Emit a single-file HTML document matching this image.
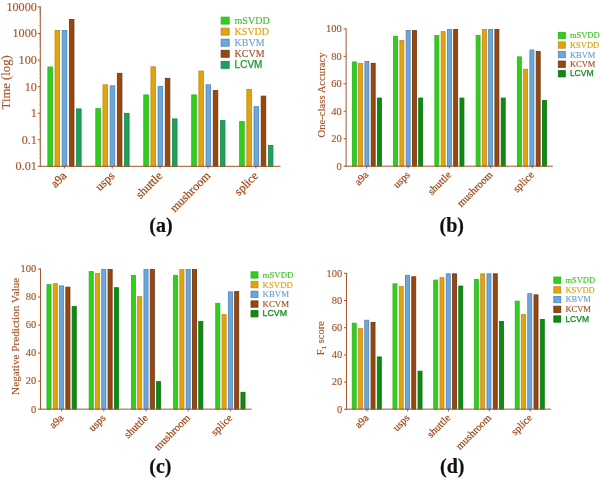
<!DOCTYPE html>
<html><head><meta charset="utf-8"><title>Figure</title>
<style>
html,body{margin:0;padding:0;background:#fff;}
body{width:600px;height:478px;overflow:hidden;font-family:"Liberation Serif",serif;}
svg{display:block;will-change:transform;}
</style></head><body>
<svg width="600" height="478" viewBox="0 0 600 478">
<rect width="600" height="478" fill="#ffffff"/>
<rect x="47.86" y="67.00" width="4.60" height="99.30" fill="#33ce1c" stroke="#2bb226" stroke-width="0.8"/>
<rect x="55.03" y="30.40" width="4.60" height="135.90" fill="#e0a40c" stroke="#c4881c" stroke-width="0.8"/>
<rect x="62.20" y="30.40" width="4.60" height="135.90" fill="#6fa6da" stroke="#4c82ba" stroke-width="0.8"/>
<rect x="69.37" y="19.40" width="4.60" height="146.90" fill="#96480f" stroke="#6c3410" stroke-width="0.8"/>
<rect x="76.54" y="108.90" width="4.60" height="57.40" fill="#1fa05c" stroke="#15884a" stroke-width="0.8"/>
<rect x="95.81" y="108.60" width="4.60" height="57.70" fill="#33ce1c" stroke="#2bb226" stroke-width="0.8"/>
<rect x="102.98" y="84.80" width="4.60" height="81.50" fill="#e0a40c" stroke="#c4881c" stroke-width="0.8"/>
<rect x="110.15" y="85.80" width="4.60" height="80.50" fill="#6fa6da" stroke="#4c82ba" stroke-width="0.8"/>
<rect x="117.32" y="73.30" width="4.60" height="93.00" fill="#96480f" stroke="#6c3410" stroke-width="0.8"/>
<rect x="124.49" y="113.30" width="4.60" height="53.00" fill="#1fa05c" stroke="#15884a" stroke-width="0.8"/>
<rect x="143.76" y="94.90" width="4.60" height="71.40" fill="#33ce1c" stroke="#2bb226" stroke-width="0.8"/>
<rect x="150.93" y="66.80" width="4.60" height="99.50" fill="#e0a40c" stroke="#c4881c" stroke-width="0.8"/>
<rect x="158.10" y="86.30" width="4.60" height="80.00" fill="#6fa6da" stroke="#4c82ba" stroke-width="0.8"/>
<rect x="165.27" y="78.30" width="4.60" height="88.00" fill="#96480f" stroke="#6c3410" stroke-width="0.8"/>
<rect x="172.44" y="118.90" width="4.60" height="47.40" fill="#1fa05c" stroke="#15884a" stroke-width="0.8"/>
<rect x="191.71" y="94.90" width="4.60" height="71.40" fill="#33ce1c" stroke="#2bb226" stroke-width="0.8"/>
<rect x="198.88" y="71.00" width="4.60" height="95.30" fill="#e0a40c" stroke="#c4881c" stroke-width="0.8"/>
<rect x="206.05" y="84.80" width="4.60" height="81.50" fill="#6fa6da" stroke="#4c82ba" stroke-width="0.8"/>
<rect x="213.22" y="90.60" width="4.60" height="75.70" fill="#96480f" stroke="#6c3410" stroke-width="0.8"/>
<rect x="220.39" y="120.60" width="4.60" height="45.70" fill="#1fa05c" stroke="#15884a" stroke-width="0.8"/>
<rect x="239.66" y="121.60" width="4.60" height="44.70" fill="#33ce1c" stroke="#2bb226" stroke-width="0.8"/>
<rect x="246.83" y="89.30" width="4.60" height="77.00" fill="#e0a40c" stroke="#c4881c" stroke-width="0.8"/>
<rect x="254.00" y="106.70" width="4.60" height="59.60" fill="#6fa6da" stroke="#4c82ba" stroke-width="0.8"/>
<rect x="261.17" y="96.10" width="4.60" height="70.20" fill="#96480f" stroke="#6c3410" stroke-width="0.8"/>
<rect x="268.34" y="145.40" width="4.60" height="20.90" fill="#1fa05c" stroke="#15884a" stroke-width="0.8"/>
<line x1="40.30" y1="6.40" x2="40.30" y2="166.80" stroke="#a5562b" stroke-width="1"/>
<line x1="39.80" y1="166.30" x2="280.50" y2="166.30" stroke="#a5562b" stroke-width="1"/>
<line x1="37.80" y1="6.92" x2="40.30" y2="6.92" stroke="#a5562b" stroke-width="1"/>
<text x="36.90" y="10.82" font-family="Liberation Serif" font-size="12.2" font-weight="normal" fill="#a5562b" stroke="#a5562b" stroke-width="0.15" text-anchor="end" >10000</text>
<line x1="37.80" y1="33.49" x2="40.30" y2="33.49" stroke="#a5562b" stroke-width="1"/>
<text x="36.90" y="37.39" font-family="Liberation Serif" font-size="12.2" font-weight="normal" fill="#a5562b" stroke="#a5562b" stroke-width="0.15" text-anchor="end" >1000</text>
<line x1="37.80" y1="60.06" x2="40.30" y2="60.06" stroke="#a5562b" stroke-width="1"/>
<text x="36.90" y="63.96" font-family="Liberation Serif" font-size="12.2" font-weight="normal" fill="#a5562b" stroke="#a5562b" stroke-width="0.15" text-anchor="end" >100</text>
<line x1="37.80" y1="86.63" x2="40.30" y2="86.63" stroke="#a5562b" stroke-width="1"/>
<text x="36.90" y="90.53" font-family="Liberation Serif" font-size="12.2" font-weight="normal" fill="#a5562b" stroke="#a5562b" stroke-width="0.15" text-anchor="end" >10</text>
<line x1="37.80" y1="113.20" x2="40.30" y2="113.20" stroke="#a5562b" stroke-width="1"/>
<text x="36.90" y="117.10" font-family="Liberation Serif" font-size="12.2" font-weight="normal" fill="#a5562b" stroke="#a5562b" stroke-width="0.15" text-anchor="end" >1</text>
<line x1="37.80" y1="139.77" x2="40.30" y2="139.77" stroke="#a5562b" stroke-width="1"/>
<text x="36.90" y="143.67" font-family="Liberation Serif" font-size="12.2" font-weight="normal" fill="#a5562b" stroke="#a5562b" stroke-width="0.15" text-anchor="end" >0.1</text>
<line x1="37.80" y1="166.34" x2="40.30" y2="166.34" stroke="#a5562b" stroke-width="1"/>
<text x="36.90" y="170.24" font-family="Liberation Serif" font-size="12.2" font-weight="normal" fill="#a5562b" stroke="#a5562b" stroke-width="0.15" text-anchor="end" >0.01</text>
<line x1="39.20" y1="158.34" x2="40.30" y2="158.34" stroke="#a5562b" stroke-width="0.4"/>
<line x1="39.20" y1="153.66" x2="40.30" y2="153.66" stroke="#a5562b" stroke-width="0.4"/>
<line x1="39.20" y1="150.34" x2="40.30" y2="150.34" stroke="#a5562b" stroke-width="0.4"/>
<line x1="39.20" y1="147.77" x2="40.30" y2="147.77" stroke="#a5562b" stroke-width="0.4"/>
<line x1="39.20" y1="145.66" x2="40.30" y2="145.66" stroke="#a5562b" stroke-width="0.4"/>
<line x1="39.20" y1="143.89" x2="40.30" y2="143.89" stroke="#a5562b" stroke-width="0.4"/>
<line x1="39.20" y1="142.34" x2="40.30" y2="142.34" stroke="#a5562b" stroke-width="0.4"/>
<line x1="39.20" y1="140.99" x2="40.30" y2="140.99" stroke="#a5562b" stroke-width="0.4"/>
<line x1="39.20" y1="131.77" x2="40.30" y2="131.77" stroke="#a5562b" stroke-width="0.4"/>
<line x1="39.20" y1="127.09" x2="40.30" y2="127.09" stroke="#a5562b" stroke-width="0.4"/>
<line x1="39.20" y1="123.77" x2="40.30" y2="123.77" stroke="#a5562b" stroke-width="0.4"/>
<line x1="39.20" y1="121.20" x2="40.30" y2="121.20" stroke="#a5562b" stroke-width="0.4"/>
<line x1="39.20" y1="119.09" x2="40.30" y2="119.09" stroke="#a5562b" stroke-width="0.4"/>
<line x1="39.20" y1="117.32" x2="40.30" y2="117.32" stroke="#a5562b" stroke-width="0.4"/>
<line x1="39.20" y1="115.77" x2="40.30" y2="115.77" stroke="#a5562b" stroke-width="0.4"/>
<line x1="39.20" y1="114.42" x2="40.30" y2="114.42" stroke="#a5562b" stroke-width="0.4"/>
<line x1="39.20" y1="105.20" x2="40.30" y2="105.20" stroke="#a5562b" stroke-width="0.4"/>
<line x1="39.20" y1="100.52" x2="40.30" y2="100.52" stroke="#a5562b" stroke-width="0.4"/>
<line x1="39.20" y1="97.20" x2="40.30" y2="97.20" stroke="#a5562b" stroke-width="0.4"/>
<line x1="39.20" y1="94.63" x2="40.30" y2="94.63" stroke="#a5562b" stroke-width="0.4"/>
<line x1="39.20" y1="92.52" x2="40.30" y2="92.52" stroke="#a5562b" stroke-width="0.4"/>
<line x1="39.20" y1="90.75" x2="40.30" y2="90.75" stroke="#a5562b" stroke-width="0.4"/>
<line x1="39.20" y1="89.20" x2="40.30" y2="89.20" stroke="#a5562b" stroke-width="0.4"/>
<line x1="39.20" y1="87.85" x2="40.30" y2="87.85" stroke="#a5562b" stroke-width="0.4"/>
<line x1="39.20" y1="78.63" x2="40.30" y2="78.63" stroke="#a5562b" stroke-width="0.4"/>
<line x1="39.20" y1="73.95" x2="40.30" y2="73.95" stroke="#a5562b" stroke-width="0.4"/>
<line x1="39.20" y1="70.63" x2="40.30" y2="70.63" stroke="#a5562b" stroke-width="0.4"/>
<line x1="39.20" y1="68.06" x2="40.30" y2="68.06" stroke="#a5562b" stroke-width="0.4"/>
<line x1="39.20" y1="65.95" x2="40.30" y2="65.95" stroke="#a5562b" stroke-width="0.4"/>
<line x1="39.20" y1="64.18" x2="40.30" y2="64.18" stroke="#a5562b" stroke-width="0.4"/>
<line x1="39.20" y1="62.63" x2="40.30" y2="62.63" stroke="#a5562b" stroke-width="0.4"/>
<line x1="39.20" y1="61.28" x2="40.30" y2="61.28" stroke="#a5562b" stroke-width="0.4"/>
<line x1="39.20" y1="52.06" x2="40.30" y2="52.06" stroke="#a5562b" stroke-width="0.4"/>
<line x1="39.20" y1="47.38" x2="40.30" y2="47.38" stroke="#a5562b" stroke-width="0.4"/>
<line x1="39.20" y1="44.06" x2="40.30" y2="44.06" stroke="#a5562b" stroke-width="0.4"/>
<line x1="39.20" y1="41.49" x2="40.30" y2="41.49" stroke="#a5562b" stroke-width="0.4"/>
<line x1="39.20" y1="39.38" x2="40.30" y2="39.38" stroke="#a5562b" stroke-width="0.4"/>
<line x1="39.20" y1="37.61" x2="40.30" y2="37.61" stroke="#a5562b" stroke-width="0.4"/>
<line x1="39.20" y1="36.06" x2="40.30" y2="36.06" stroke="#a5562b" stroke-width="0.4"/>
<line x1="39.20" y1="34.71" x2="40.30" y2="34.71" stroke="#a5562b" stroke-width="0.4"/>
<line x1="39.20" y1="25.49" x2="40.30" y2="25.49" stroke="#a5562b" stroke-width="0.4"/>
<line x1="39.20" y1="20.81" x2="40.30" y2="20.81" stroke="#a5562b" stroke-width="0.4"/>
<line x1="39.20" y1="17.49" x2="40.30" y2="17.49" stroke="#a5562b" stroke-width="0.4"/>
<line x1="39.20" y1="14.92" x2="40.30" y2="14.92" stroke="#a5562b" stroke-width="0.4"/>
<line x1="39.20" y1="12.81" x2="40.30" y2="12.81" stroke="#a5562b" stroke-width="0.4"/>
<line x1="39.20" y1="11.04" x2="40.30" y2="11.04" stroke="#a5562b" stroke-width="0.4"/>
<line x1="39.20" y1="9.49" x2="40.30" y2="9.49" stroke="#a5562b" stroke-width="0.4"/>
<line x1="39.20" y1="8.14" x2="40.30" y2="8.14" stroke="#a5562b" stroke-width="0.4"/>
<line x1="64.30" y1="166.30" x2="64.30" y2="168.50" stroke="#a5562b" stroke-width="1"/>
<text x="67.30" y="176.50" font-family="Liberation Serif" font-size="12" font-weight="normal" fill="#9c4314" stroke="#9c4314" stroke-width="0.2" text-anchor="end" transform="rotate(-45 67.30 176.50)">a9a</text>
<line x1="112.20" y1="166.30" x2="112.20" y2="168.50" stroke="#a5562b" stroke-width="1"/>
<text x="115.20" y="176.50" font-family="Liberation Serif" font-size="12" font-weight="normal" fill="#9c4314" stroke="#9c4314" stroke-width="0.2" text-anchor="end" transform="rotate(-45 115.20 176.50)">usps</text>
<line x1="160.10" y1="166.30" x2="160.10" y2="168.50" stroke="#a5562b" stroke-width="1"/>
<text x="163.10" y="176.50" font-family="Liberation Serif" font-size="12" font-weight="normal" fill="#9c4314" stroke="#9c4314" stroke-width="0.2" text-anchor="end" transform="rotate(-45 163.10 176.50)">shuttle</text>
<line x1="208.00" y1="166.30" x2="208.00" y2="168.50" stroke="#a5562b" stroke-width="1"/>
<text x="211.00" y="176.50" font-family="Liberation Serif" font-size="12" font-weight="normal" fill="#9c4314" stroke="#9c4314" stroke-width="0.2" text-anchor="end" transform="rotate(-45 211.00 176.50)">mushroom</text>
<line x1="255.90" y1="166.30" x2="255.90" y2="168.50" stroke="#a5562b" stroke-width="1"/>
<text x="258.90" y="176.50" font-family="Liberation Serif" font-size="12" font-weight="normal" fill="#9c4314" stroke="#9c4314" stroke-width="0.2" text-anchor="end" transform="rotate(-45 258.90 176.50)">splice</text>
<text x="9.80" y="82.30" font-family="Liberation Serif" font-size="12.7" font-weight="normal" fill="#a5562b" stroke="#a5562b" stroke-width="0.15" text-anchor="middle" transform="rotate(-90 9.80 82.30)">Time (log)</text>
<rect x="221.10" y="17.10" width="8.10" height="7.00" fill="#33ce1c" stroke="#2bb226" stroke-width="0.8"/>
<text x="234.60" y="24.00" font-family="Liberation Serif" font-size="10" font-weight="normal" fill="#3fc628" stroke="#3fc628" stroke-width="0.15" text-anchor="start" >mSVDD</text>
<rect x="221.10" y="28.15" width="8.10" height="7.00" fill="#e0a40c" stroke="#c4881c" stroke-width="0.8"/>
<text x="234.60" y="35.05" font-family="Liberation Serif" font-size="10" font-weight="normal" fill="#d9a21b" stroke="#d9a21b" stroke-width="0.15" text-anchor="start" >KSVDD</text>
<rect x="221.10" y="39.20" width="8.10" height="7.00" fill="#6fa6da" stroke="#4c82ba" stroke-width="0.8"/>
<text x="234.60" y="46.10" font-family="Liberation Serif" font-size="10" font-weight="normal" fill="#6fa3d8" stroke="#6fa3d8" stroke-width="0.15" text-anchor="start" >KBVM</text>
<rect x="221.10" y="50.25" width="8.10" height="7.00" fill="#96480f" stroke="#6c3410" stroke-width="0.8"/>
<text x="234.60" y="57.15" font-family="Liberation Serif" font-size="10" font-weight="normal" fill="#a0542a" stroke="#a0542a" stroke-width="0.15" text-anchor="start" >KCVM</text>
<rect x="221.10" y="61.30" width="8.10" height="7.00" fill="#1fa05c" stroke="#15884a" stroke-width="0.8"/>
<text x="234.60" y="67.80" font-family="Liberation Sans" font-size="10" font-weight="normal" fill="#169a2c" stroke="#169a2c" stroke-width="0.25" text-anchor="start" >LCVM</text>
<text x="161.00" y="231.80" font-family="Liberation Serif" font-size="20" font-weight="bold" fill="#111" stroke="#111" stroke-width="0.2" text-anchor="middle" >(a)</text>
<rect x="352.36" y="61.94" width="4.00" height="104.26" fill="#33ce1c" stroke="#2bb226" stroke-width="0.8"/>
<rect x="358.63" y="63.45" width="4.00" height="102.75" fill="#e0a40c" stroke="#c4881c" stroke-width="0.8"/>
<rect x="364.90" y="61.39" width="4.00" height="104.81" fill="#6fa6da" stroke="#4c82ba" stroke-width="0.8"/>
<rect x="371.17" y="63.31" width="4.00" height="102.89" fill="#96480f" stroke="#6c3410" stroke-width="0.8"/>
<rect x="377.44" y="98.05" width="4.00" height="68.15" fill="#0e8a12" stroke="#0a7410" stroke-width="0.8"/>
<rect x="393.61" y="36.26" width="4.00" height="129.94" fill="#33ce1c" stroke="#2bb226" stroke-width="0.8"/>
<rect x="399.88" y="40.38" width="4.00" height="125.82" fill="#e0a40c" stroke="#c4881c" stroke-width="0.8"/>
<rect x="406.15" y="30.36" width="4.00" height="135.84" fill="#6fa6da" stroke="#4c82ba" stroke-width="0.8"/>
<rect x="412.42" y="30.64" width="4.00" height="135.56" fill="#96480f" stroke="#6c3410" stroke-width="0.8"/>
<rect x="418.69" y="98.05" width="4.00" height="68.15" fill="#0e8a12" stroke="#0a7410" stroke-width="0.8"/>
<rect x="434.86" y="35.44" width="4.00" height="130.76" fill="#33ce1c" stroke="#2bb226" stroke-width="0.8"/>
<rect x="441.13" y="31.60" width="4.00" height="134.60" fill="#e0a40c" stroke="#c4881c" stroke-width="0.8"/>
<rect x="447.40" y="29.40" width="4.00" height="136.80" fill="#6fa6da" stroke="#4c82ba" stroke-width="0.8"/>
<rect x="453.67" y="29.40" width="4.00" height="136.80" fill="#96480f" stroke="#6c3410" stroke-width="0.8"/>
<rect x="459.94" y="98.05" width="4.00" height="68.15" fill="#0e8a12" stroke="#0a7410" stroke-width="0.8"/>
<rect x="476.11" y="35.44" width="4.00" height="130.76" fill="#33ce1c" stroke="#2bb226" stroke-width="0.8"/>
<rect x="482.38" y="29.40" width="4.00" height="136.80" fill="#e0a40c" stroke="#c4881c" stroke-width="0.8"/>
<rect x="488.65" y="29.40" width="4.00" height="136.80" fill="#6fa6da" stroke="#4c82ba" stroke-width="0.8"/>
<rect x="494.92" y="29.40" width="4.00" height="136.80" fill="#96480f" stroke="#6c3410" stroke-width="0.8"/>
<rect x="501.19" y="98.05" width="4.00" height="68.15" fill="#0e8a12" stroke="#0a7410" stroke-width="0.8"/>
<rect x="517.36" y="56.86" width="4.00" height="109.34" fill="#33ce1c" stroke="#2bb226" stroke-width="0.8"/>
<rect x="523.63" y="69.22" width="4.00" height="96.98" fill="#e0a40c" stroke="#c4881c" stroke-width="0.8"/>
<rect x="529.90" y="49.99" width="4.00" height="116.20" fill="#6fa6da" stroke="#4c82ba" stroke-width="0.8"/>
<rect x="536.17" y="51.37" width="4.00" height="114.83" fill="#96480f" stroke="#6c3410" stroke-width="0.8"/>
<rect x="542.44" y="100.38" width="4.00" height="65.82" fill="#0e8a12" stroke="#0a7410" stroke-width="0.8"/>
<line x1="346.10" y1="28.40" x2="346.10" y2="166.70" stroke="#a5562b" stroke-width="1"/>
<line x1="345.60" y1="166.20" x2="552.80" y2="166.20" stroke="#a5562b" stroke-width="1"/>
<line x1="343.60" y1="166.20" x2="346.10" y2="166.20" stroke="#a5562b" stroke-width="1"/>
<text x="341.80" y="169.56" font-family="Liberation Serif" font-size="10.5" font-weight="normal" fill="#a5562b" stroke="#a5562b" stroke-width="0.15" text-anchor="end" >0</text>
<line x1="343.60" y1="138.74" x2="346.10" y2="138.74" stroke="#a5562b" stroke-width="1"/>
<text x="341.80" y="142.10" font-family="Liberation Serif" font-size="10.5" font-weight="normal" fill="#a5562b" stroke="#a5562b" stroke-width="0.15" text-anchor="end" >20</text>
<line x1="343.60" y1="111.28" x2="346.10" y2="111.28" stroke="#a5562b" stroke-width="1"/>
<text x="341.80" y="114.64" font-family="Liberation Serif" font-size="10.5" font-weight="normal" fill="#a5562b" stroke="#a5562b" stroke-width="0.15" text-anchor="end" >40</text>
<line x1="343.60" y1="83.82" x2="346.10" y2="83.82" stroke="#a5562b" stroke-width="1"/>
<text x="341.80" y="87.18" font-family="Liberation Serif" font-size="10.5" font-weight="normal" fill="#a5562b" stroke="#a5562b" stroke-width="0.15" text-anchor="end" >60</text>
<line x1="343.60" y1="56.36" x2="346.10" y2="56.36" stroke="#a5562b" stroke-width="1"/>
<text x="341.80" y="59.72" font-family="Liberation Serif" font-size="10.5" font-weight="normal" fill="#a5562b" stroke="#a5562b" stroke-width="0.15" text-anchor="end" >80</text>
<line x1="343.60" y1="28.90" x2="346.10" y2="28.90" stroke="#a5562b" stroke-width="1"/>
<text x="341.80" y="32.26" font-family="Liberation Serif" font-size="10.5" font-weight="normal" fill="#a5562b" stroke="#a5562b" stroke-width="0.15" text-anchor="end" >100</text>
<line x1="366.70" y1="166.20" x2="366.70" y2="168.40" stroke="#a5562b" stroke-width="1"/>
<text x="369.20" y="175.50" font-family="Liberation Serif" font-size="10.6" font-weight="normal" fill="#9c4314" stroke="#9c4314" stroke-width="0.2" text-anchor="end" transform="rotate(-45 369.20 175.50)">a9a</text>
<line x1="408.06" y1="166.20" x2="408.06" y2="168.40" stroke="#a5562b" stroke-width="1"/>
<text x="410.56" y="175.50" font-family="Liberation Serif" font-size="10.6" font-weight="normal" fill="#9c4314" stroke="#9c4314" stroke-width="0.2" text-anchor="end" transform="rotate(-45 410.56 175.50)">usps</text>
<line x1="449.42" y1="166.20" x2="449.42" y2="168.40" stroke="#a5562b" stroke-width="1"/>
<text x="451.92" y="175.50" font-family="Liberation Serif" font-size="10.6" font-weight="normal" fill="#9c4314" stroke="#9c4314" stroke-width="0.2" text-anchor="end" transform="rotate(-45 451.92 175.50)">shuttle</text>
<line x1="490.78" y1="166.20" x2="490.78" y2="168.40" stroke="#a5562b" stroke-width="1"/>
<text x="493.28" y="175.50" font-family="Liberation Serif" font-size="10.6" font-weight="normal" fill="#9c4314" stroke="#9c4314" stroke-width="0.2" text-anchor="end" transform="rotate(-45 493.28 175.50)">mushroom</text>
<line x1="532.14" y1="166.20" x2="532.14" y2="168.40" stroke="#a5562b" stroke-width="1"/>
<text x="534.64" y="175.50" font-family="Liberation Serif" font-size="10.6" font-weight="normal" fill="#9c4314" stroke="#9c4314" stroke-width="0.2" text-anchor="end" transform="rotate(-45 534.64 175.50)">splice</text>
<text x="325.20" y="95.00" font-family="Liberation Serif" font-size="10.7" font-weight="normal" fill="#a5562b" stroke="#a5562b" stroke-width="0.15" text-anchor="middle" transform="rotate(-90 325.20 95.00)">One-class Accuracy</text>
<rect x="558.30" y="32.30" width="7.00" height="6.30" fill="#33ce1c" stroke="#2bb226" stroke-width="0.8"/>
<text x="569.90" y="38.34" font-family="Liberation Serif" font-size="8.5" font-weight="normal" fill="#3fc628" stroke="#3fc628" stroke-width="0.15" text-anchor="start" >mSVDD</text>
<rect x="558.30" y="41.88" width="7.00" height="6.30" fill="#e0a40c" stroke="#c4881c" stroke-width="0.8"/>
<text x="569.90" y="47.92" font-family="Liberation Serif" font-size="8.5" font-weight="normal" fill="#d9a21b" stroke="#d9a21b" stroke-width="0.15" text-anchor="start" >KSVDD</text>
<rect x="558.30" y="51.46" width="7.00" height="6.30" fill="#6fa6da" stroke="#4c82ba" stroke-width="0.8"/>
<text x="569.90" y="57.50" font-family="Liberation Serif" font-size="8.5" font-weight="normal" fill="#6fa3d8" stroke="#6fa3d8" stroke-width="0.15" text-anchor="start" >KBVM</text>
<rect x="558.30" y="61.04" width="7.00" height="6.30" fill="#96480f" stroke="#6c3410" stroke-width="0.8"/>
<text x="569.90" y="67.08" font-family="Liberation Serif" font-size="8.5" font-weight="normal" fill="#a0542a" stroke="#a0542a" stroke-width="0.15" text-anchor="start" >KCVM</text>
<rect x="558.30" y="70.62" width="7.00" height="6.30" fill="#0e8a12" stroke="#0a7410" stroke-width="0.8"/>
<text x="569.90" y="76.32" font-family="Liberation Sans" font-size="8.5" font-weight="normal" fill="#128a1a" stroke="#128a1a" stroke-width="0.25" text-anchor="start" >LCVM</text>
<text x="451.80" y="231.70" font-family="Liberation Serif" font-size="20" font-weight="bold" fill="#111" stroke="#111" stroke-width="0.2" text-anchor="middle" >(b)</text>
<rect x="46.95" y="284.64" width="4.10" height="124.51" fill="#33ce1c" stroke="#2bb226" stroke-width="0.8"/>
<rect x="53.25" y="283.66" width="4.10" height="125.49" fill="#e0a40c" stroke="#c4881c" stroke-width="0.8"/>
<rect x="59.55" y="285.90" width="4.10" height="123.25" fill="#6fa6da" stroke="#4c82ba" stroke-width="0.8"/>
<rect x="65.85" y="287.16" width="4.10" height="121.99" fill="#96480f" stroke="#6c3410" stroke-width="0.8"/>
<rect x="72.15" y="306.50" width="4.10" height="102.65" fill="#0e8a12" stroke="#0a7410" stroke-width="0.8"/>
<rect x="89.15" y="271.60" width="4.10" height="137.55" fill="#33ce1c" stroke="#2bb226" stroke-width="0.8"/>
<rect x="95.45" y="273.56" width="4.10" height="135.59" fill="#e0a40c" stroke="#c4881c" stroke-width="0.8"/>
<rect x="101.75" y="269.50" width="4.10" height="139.65" fill="#6fa6da" stroke="#4c82ba" stroke-width="0.8"/>
<rect x="108.05" y="269.50" width="4.10" height="139.65" fill="#96480f" stroke="#6c3410" stroke-width="0.8"/>
<rect x="114.35" y="287.72" width="4.10" height="121.43" fill="#0e8a12" stroke="#0a7410" stroke-width="0.8"/>
<rect x="131.35" y="275.39" width="4.10" height="133.76" fill="#33ce1c" stroke="#2bb226" stroke-width="0.8"/>
<rect x="137.65" y="296.55" width="4.10" height="112.60" fill="#e0a40c" stroke="#c4881c" stroke-width="0.8"/>
<rect x="143.95" y="269.50" width="4.10" height="139.65" fill="#6fa6da" stroke="#4c82ba" stroke-width="0.8"/>
<rect x="150.25" y="269.50" width="4.10" height="139.65" fill="#96480f" stroke="#6c3410" stroke-width="0.8"/>
<rect x="156.55" y="381.62" width="4.10" height="27.53" fill="#0e8a12" stroke="#0a7410" stroke-width="0.8"/>
<rect x="173.55" y="275.39" width="4.10" height="133.76" fill="#33ce1c" stroke="#2bb226" stroke-width="0.8"/>
<rect x="179.85" y="269.50" width="4.10" height="139.65" fill="#e0a40c" stroke="#c4881c" stroke-width="0.8"/>
<rect x="186.15" y="269.50" width="4.10" height="139.65" fill="#6fa6da" stroke="#4c82ba" stroke-width="0.8"/>
<rect x="192.45" y="269.50" width="4.10" height="139.65" fill="#96480f" stroke="#6c3410" stroke-width="0.8"/>
<rect x="198.75" y="321.36" width="4.10" height="87.79" fill="#0e8a12" stroke="#0a7410" stroke-width="0.8"/>
<rect x="215.75" y="303.28" width="4.10" height="105.87" fill="#33ce1c" stroke="#2bb226" stroke-width="0.8"/>
<rect x="222.05" y="314.63" width="4.10" height="94.52" fill="#e0a40c" stroke="#c4881c" stroke-width="0.8"/>
<rect x="228.35" y="291.92" width="4.10" height="117.23" fill="#6fa6da" stroke="#4c82ba" stroke-width="0.8"/>
<rect x="234.65" y="291.50" width="4.10" height="117.65" fill="#96480f" stroke="#6c3410" stroke-width="0.8"/>
<rect x="240.95" y="392.27" width="4.10" height="16.88" fill="#0e8a12" stroke="#0a7410" stroke-width="0.8"/>
<line x1="40.50" y1="268.50" x2="40.50" y2="409.65" stroke="#a5562b" stroke-width="1"/>
<line x1="40.00" y1="409.15" x2="251.60" y2="409.15" stroke="#a5562b" stroke-width="1"/>
<line x1="38.00" y1="409.15" x2="40.50" y2="409.15" stroke="#a5562b" stroke-width="1"/>
<text x="36.20" y="412.51" font-family="Liberation Serif" font-size="10.5" font-weight="normal" fill="#a5562b" stroke="#a5562b" stroke-width="0.15" text-anchor="end" >0</text>
<line x1="38.00" y1="381.12" x2="40.50" y2="381.12" stroke="#a5562b" stroke-width="1"/>
<text x="36.20" y="384.48" font-family="Liberation Serif" font-size="10.5" font-weight="normal" fill="#a5562b" stroke="#a5562b" stroke-width="0.15" text-anchor="end" >20</text>
<line x1="38.00" y1="353.09" x2="40.50" y2="353.09" stroke="#a5562b" stroke-width="1"/>
<text x="36.20" y="356.45" font-family="Liberation Serif" font-size="10.5" font-weight="normal" fill="#a5562b" stroke="#a5562b" stroke-width="0.15" text-anchor="end" >40</text>
<line x1="38.00" y1="325.06" x2="40.50" y2="325.06" stroke="#a5562b" stroke-width="1"/>
<text x="36.20" y="328.42" font-family="Liberation Serif" font-size="10.5" font-weight="normal" fill="#a5562b" stroke="#a5562b" stroke-width="0.15" text-anchor="end" >60</text>
<line x1="38.00" y1="297.03" x2="40.50" y2="297.03" stroke="#a5562b" stroke-width="1"/>
<text x="36.20" y="300.39" font-family="Liberation Serif" font-size="10.5" font-weight="normal" fill="#a5562b" stroke="#a5562b" stroke-width="0.15" text-anchor="end" >80</text>
<line x1="38.00" y1="269.00" x2="40.50" y2="269.00" stroke="#a5562b" stroke-width="1"/>
<text x="36.20" y="272.36" font-family="Liberation Serif" font-size="10.5" font-weight="normal" fill="#a5562b" stroke="#a5562b" stroke-width="0.15" text-anchor="end" >100</text>
<line x1="61.60" y1="409.15" x2="61.60" y2="411.35" stroke="#a5562b" stroke-width="1"/>
<text x="64.10" y="418.55" font-family="Liberation Serif" font-size="10.7" font-weight="normal" fill="#9c4314" stroke="#9c4314" stroke-width="0.2" text-anchor="end" transform="rotate(-45 64.10 418.55)">a9a</text>
<line x1="103.80" y1="409.15" x2="103.80" y2="411.35" stroke="#a5562b" stroke-width="1"/>
<text x="106.30" y="418.55" font-family="Liberation Serif" font-size="10.7" font-weight="normal" fill="#9c4314" stroke="#9c4314" stroke-width="0.2" text-anchor="end" transform="rotate(-45 106.30 418.55)">usps</text>
<line x1="146.00" y1="409.15" x2="146.00" y2="411.35" stroke="#a5562b" stroke-width="1"/>
<text x="148.50" y="418.55" font-family="Liberation Serif" font-size="10.7" font-weight="normal" fill="#9c4314" stroke="#9c4314" stroke-width="0.2" text-anchor="end" transform="rotate(-45 148.50 418.55)">shuttle</text>
<line x1="188.20" y1="409.15" x2="188.20" y2="411.35" stroke="#a5562b" stroke-width="1"/>
<text x="190.70" y="418.55" font-family="Liberation Serif" font-size="10.7" font-weight="normal" fill="#9c4314" stroke="#9c4314" stroke-width="0.2" text-anchor="end" transform="rotate(-45 190.70 418.55)">mushroom</text>
<line x1="230.40" y1="409.15" x2="230.40" y2="411.35" stroke="#a5562b" stroke-width="1"/>
<text x="232.90" y="418.55" font-family="Liberation Serif" font-size="10.7" font-weight="normal" fill="#9c4314" stroke="#9c4314" stroke-width="0.2" text-anchor="end" transform="rotate(-45 232.90 418.55)">splice</text>
<text x="19.40" y="336.30" font-family="Liberation Serif" font-size="11.2" font-weight="normal" fill="#a5562b" stroke="#a5562b" stroke-width="0.15" text-anchor="middle" transform="rotate(-90 19.40 336.30)">Negative Prediction Value</text>
<rect x="251.00" y="271.80" width="7.00" height="6.30" fill="#33ce1c" stroke="#2bb226" stroke-width="0.8"/>
<text x="262.60" y="277.94" font-family="Liberation Serif" font-size="8.8" font-weight="normal" fill="#3fc628" stroke="#3fc628" stroke-width="0.15" text-anchor="start" >mSVDD</text>
<rect x="251.00" y="281.50" width="7.00" height="6.30" fill="#e0a40c" stroke="#c4881c" stroke-width="0.8"/>
<text x="262.60" y="287.64" font-family="Liberation Serif" font-size="8.8" font-weight="normal" fill="#d9a21b" stroke="#d9a21b" stroke-width="0.15" text-anchor="start" >KSVDD</text>
<rect x="251.00" y="291.20" width="7.00" height="6.30" fill="#6fa6da" stroke="#4c82ba" stroke-width="0.8"/>
<text x="262.60" y="297.34" font-family="Liberation Serif" font-size="8.8" font-weight="normal" fill="#6fa3d8" stroke="#6fa3d8" stroke-width="0.15" text-anchor="start" >KBVM</text>
<rect x="251.00" y="300.90" width="7.00" height="6.30" fill="#96480f" stroke="#6c3410" stroke-width="0.8"/>
<text x="262.60" y="307.04" font-family="Liberation Serif" font-size="8.8" font-weight="normal" fill="#a0542a" stroke="#a0542a" stroke-width="0.15" text-anchor="start" >KCVM</text>
<rect x="251.00" y="310.60" width="7.00" height="6.30" fill="#0e8a12" stroke="#0a7410" stroke-width="0.8"/>
<text x="262.60" y="316.39" font-family="Liberation Sans" font-size="8.8" font-weight="normal" fill="#128a1a" stroke="#128a1a" stroke-width="0.25" text-anchor="start" >LCVM</text>
<text x="160.40" y="473.30" font-family="Liberation Serif" font-size="20" font-weight="bold" fill="#111" stroke="#111" stroke-width="0.2" text-anchor="middle" >(c)</text>
<rect x="352.21" y="323.17" width="4.00" height="85.98" fill="#33ce1c" stroke="#2bb226" stroke-width="0.8"/>
<rect x="358.48" y="328.34" width="4.00" height="80.81" fill="#e0a40c" stroke="#c4881c" stroke-width="0.8"/>
<rect x="364.75" y="320.18" width="4.00" height="88.97" fill="#6fa6da" stroke="#4c82ba" stroke-width="0.8"/>
<rect x="371.02" y="322.35" width="4.00" height="86.80" fill="#96480f" stroke="#6c3410" stroke-width="0.8"/>
<rect x="377.29" y="356.90" width="4.00" height="52.25" fill="#0e8a12" stroke="#0a7410" stroke-width="0.8"/>
<rect x="392.96" y="283.86" width="4.00" height="125.29" fill="#33ce1c" stroke="#2bb226" stroke-width="0.8"/>
<rect x="399.23" y="286.31" width="4.00" height="122.84" fill="#e0a40c" stroke="#c4881c" stroke-width="0.8"/>
<rect x="405.50" y="275.30" width="4.00" height="133.85" fill="#6fa6da" stroke="#4c82ba" stroke-width="0.8"/>
<rect x="411.77" y="276.79" width="4.00" height="132.36" fill="#96480f" stroke="#6c3410" stroke-width="0.8"/>
<rect x="418.04" y="371.18" width="4.00" height="37.97" fill="#0e8a12" stroke="#0a7410" stroke-width="0.8"/>
<rect x="433.71" y="280.06" width="4.00" height="129.09" fill="#33ce1c" stroke="#2bb226" stroke-width="0.8"/>
<rect x="439.98" y="277.61" width="4.00" height="131.54" fill="#e0a40c" stroke="#c4881c" stroke-width="0.8"/>
<rect x="446.25" y="273.80" width="4.00" height="135.35" fill="#6fa6da" stroke="#4c82ba" stroke-width="0.8"/>
<rect x="452.52" y="273.80" width="4.00" height="135.35" fill="#96480f" stroke="#6c3410" stroke-width="0.8"/>
<rect x="458.79" y="286.04" width="4.00" height="123.11" fill="#0e8a12" stroke="#0a7410" stroke-width="0.8"/>
<rect x="474.46" y="279.38" width="4.00" height="129.77" fill="#33ce1c" stroke="#2bb226" stroke-width="0.8"/>
<rect x="480.73" y="273.80" width="4.00" height="135.35" fill="#e0a40c" stroke="#c4881c" stroke-width="0.8"/>
<rect x="487.00" y="273.80" width="4.00" height="135.35" fill="#6fa6da" stroke="#4c82ba" stroke-width="0.8"/>
<rect x="493.27" y="273.80" width="4.00" height="135.35" fill="#96480f" stroke="#6c3410" stroke-width="0.8"/>
<rect x="499.54" y="321.40" width="4.00" height="87.75" fill="#0e8a12" stroke="#0a7410" stroke-width="0.8"/>
<rect x="515.21" y="301.14" width="4.00" height="108.01" fill="#33ce1c" stroke="#2bb226" stroke-width="0.8"/>
<rect x="521.48" y="314.60" width="4.00" height="94.55" fill="#e0a40c" stroke="#c4881c" stroke-width="0.8"/>
<rect x="527.75" y="293.66" width="4.00" height="115.49" fill="#6fa6da" stroke="#4c82ba" stroke-width="0.8"/>
<rect x="534.02" y="294.88" width="4.00" height="114.27" fill="#96480f" stroke="#6c3410" stroke-width="0.8"/>
<rect x="540.29" y="319.36" width="4.00" height="89.79" fill="#0e8a12" stroke="#0a7410" stroke-width="0.8"/>
<line x1="346.50" y1="272.90" x2="346.50" y2="409.65" stroke="#a5562b" stroke-width="1"/>
<line x1="346.00" y1="409.15" x2="550.80" y2="409.15" stroke="#a5562b" stroke-width="1"/>
<line x1="344.00" y1="409.30" x2="346.50" y2="409.30" stroke="#a5562b" stroke-width="1"/>
<text x="342.20" y="412.66" font-family="Liberation Serif" font-size="10.5" font-weight="normal" fill="#a5562b" stroke="#a5562b" stroke-width="0.15" text-anchor="end" >0</text>
<line x1="344.00" y1="382.10" x2="346.50" y2="382.10" stroke="#a5562b" stroke-width="1"/>
<text x="342.20" y="385.46" font-family="Liberation Serif" font-size="10.5" font-weight="normal" fill="#a5562b" stroke="#a5562b" stroke-width="0.15" text-anchor="end" >20</text>
<line x1="344.00" y1="354.90" x2="346.50" y2="354.90" stroke="#a5562b" stroke-width="1"/>
<text x="342.20" y="358.26" font-family="Liberation Serif" font-size="10.5" font-weight="normal" fill="#a5562b" stroke="#a5562b" stroke-width="0.15" text-anchor="end" >40</text>
<line x1="344.00" y1="327.70" x2="346.50" y2="327.70" stroke="#a5562b" stroke-width="1"/>
<text x="342.20" y="331.06" font-family="Liberation Serif" font-size="10.5" font-weight="normal" fill="#a5562b" stroke="#a5562b" stroke-width="0.15" text-anchor="end" >60</text>
<line x1="344.00" y1="300.50" x2="346.50" y2="300.50" stroke="#a5562b" stroke-width="1"/>
<text x="342.20" y="303.86" font-family="Liberation Serif" font-size="10.5" font-weight="normal" fill="#a5562b" stroke="#a5562b" stroke-width="0.15" text-anchor="end" >80</text>
<line x1="344.00" y1="273.30" x2="346.50" y2="273.30" stroke="#a5562b" stroke-width="1"/>
<text x="342.20" y="276.66" font-family="Liberation Serif" font-size="10.5" font-weight="normal" fill="#a5562b" stroke="#a5562b" stroke-width="0.15" text-anchor="end" >100</text>
<line x1="366.80" y1="409.15" x2="366.80" y2="411.35" stroke="#a5562b" stroke-width="1"/>
<text x="369.30" y="418.45" font-family="Liberation Serif" font-size="10.5" font-weight="normal" fill="#9c4314" stroke="#9c4314" stroke-width="0.2" text-anchor="end" transform="rotate(-45 369.30 418.45)">a9a</text>
<line x1="407.65" y1="409.15" x2="407.65" y2="411.35" stroke="#a5562b" stroke-width="1"/>
<text x="410.15" y="418.45" font-family="Liberation Serif" font-size="10.5" font-weight="normal" fill="#9c4314" stroke="#9c4314" stroke-width="0.2" text-anchor="end" transform="rotate(-45 410.15 418.45)">usps</text>
<line x1="448.50" y1="409.15" x2="448.50" y2="411.35" stroke="#a5562b" stroke-width="1"/>
<text x="451.00" y="418.45" font-family="Liberation Serif" font-size="10.5" font-weight="normal" fill="#9c4314" stroke="#9c4314" stroke-width="0.2" text-anchor="end" transform="rotate(-45 451.00 418.45)">shuttle</text>
<line x1="489.35" y1="409.15" x2="489.35" y2="411.35" stroke="#a5562b" stroke-width="1"/>
<text x="491.85" y="418.45" font-family="Liberation Serif" font-size="10.5" font-weight="normal" fill="#9c4314" stroke="#9c4314" stroke-width="0.2" text-anchor="end" transform="rotate(-45 491.85 418.45)">mushroom</text>
<line x1="530.20" y1="409.15" x2="530.20" y2="411.35" stroke="#a5562b" stroke-width="1"/>
<text x="532.70" y="418.45" font-family="Liberation Serif" font-size="10.5" font-weight="normal" fill="#9c4314" stroke="#9c4314" stroke-width="0.2" text-anchor="end" transform="rotate(-45 532.70 418.45)">splice</text>
<text x="324.00" y="338.20" font-family="Liberation Serif" font-size="10.5" font-weight="normal" fill="#a5562b" stroke="#a5562b" stroke-width="0.15" text-anchor="middle" transform="rotate(-90 324.00 338.20)">F<tspan font-size="7" dy="2">1</tspan><tspan dy="-2"> score</tspan></text>
<rect x="553.80" y="277.00" width="7.00" height="6.30" fill="#33ce1c" stroke="#2bb226" stroke-width="0.8"/>
<text x="565.40" y="283.04" font-family="Liberation Serif" font-size="8.5" font-weight="normal" fill="#3fc628" stroke="#3fc628" stroke-width="0.15" text-anchor="start" >mSVDD</text>
<rect x="553.80" y="286.72" width="7.00" height="6.30" fill="#e0a40c" stroke="#c4881c" stroke-width="0.8"/>
<text x="565.40" y="292.76" font-family="Liberation Serif" font-size="8.5" font-weight="normal" fill="#d9a21b" stroke="#d9a21b" stroke-width="0.15" text-anchor="start" >KSVDD</text>
<rect x="553.80" y="296.44" width="7.00" height="6.30" fill="#6fa6da" stroke="#4c82ba" stroke-width="0.8"/>
<text x="565.40" y="302.48" font-family="Liberation Serif" font-size="8.5" font-weight="normal" fill="#6fa3d8" stroke="#6fa3d8" stroke-width="0.15" text-anchor="start" >KBVM</text>
<rect x="553.80" y="306.16" width="7.00" height="6.30" fill="#96480f" stroke="#6c3410" stroke-width="0.8"/>
<text x="565.40" y="312.20" font-family="Liberation Serif" font-size="8.5" font-weight="normal" fill="#a0542a" stroke="#a0542a" stroke-width="0.15" text-anchor="start" >KCVM</text>
<rect x="553.80" y="315.88" width="7.00" height="6.30" fill="#0e8a12" stroke="#0a7410" stroke-width="0.8"/>
<text x="565.40" y="321.58" font-family="Liberation Sans" font-size="8.5" font-weight="normal" fill="#128a1a" stroke="#128a1a" stroke-width="0.25" text-anchor="start" >LCVM</text>
<text x="452.30" y="473.30" font-family="Liberation Serif" font-size="20" font-weight="bold" fill="#111" stroke="#111" stroke-width="0.2" text-anchor="middle" >(d)</text>
</svg>
</body></html>
